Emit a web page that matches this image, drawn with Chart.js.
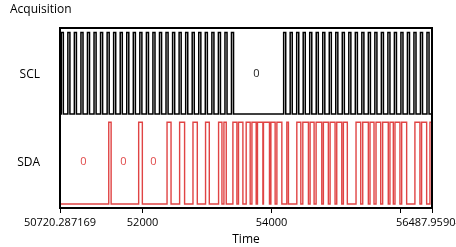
<!DOCTYPE html>
<html>
<head>
<meta charset="utf-8">
<script src="https://cdn.jsdelivr.net/npm/chart.js@4.4.1/dist/chart.umd.min.js"></script>
<style>
  html, body { margin: 0; padding: 0; background: #fff; }
  #wrap { width: 456px; height: 247px; }
</style>
</head>
<body>
<div id="wrap"><canvas id="acq" width="456" height="247"></canvas></div>
<script>
/* Logic-analyzer style acquisition: two digital lanes (SCL, SDA) over time.
 * Each lane is a list of toggle times; the level starts low at the left edge. */
var X_MIN = 50720.287169, X_MAX = 56487.959041;

var xTickValues = [50720.287169, 52000, 54000, 56000, 56487.959041];
var xTickLabels = ['50720.287169', '52000', '54000', '', '56487.959041'];

var laneNames = ['SDA', 'SCL'];

// SCL toggle times (rise, fall pairs)
var sclEdges = [
  50740, 50772, 50842, 50874, 50943, 50975, 51045, 51077, 51146, 51178,
  51248, 51280, 51349, 51381, 51451, 51483, 51552, 51584, 51654, 51686,
  51755, 51787, 51857, 51889, 51958, 51990, 52060, 52092, 52161, 52193,
  52263, 52295, 52364, 52396, 52466, 52498, 52567, 52599, 52669, 52701,
  52770, 52802, 52872, 52904, 52973, 53005, 53075, 53107, 53176, 53208,
  53278, 53310, 53379, 53411,
  54188, 54220, 54289, 54321, 54390, 54422, 54491, 54523, 54592, 54624,
  54693, 54725, 54794, 54826, 54895, 54927, 54996, 55028, 55097, 55129,
  55198, 55230, 55299, 55331, 55400, 55432, 55501, 55533, 55602, 55634,
  55703, 55735, 55804, 55836, 55905, 55937, 56006, 56038, 56107, 56139,
  56208, 56240, 56309, 56341, 56410, 56442
];

// SDA toggle times
var sdaEdges = [
  51476, 51513, 51940, 51997, 52380, 52442, 52575, 52652, 52782, 52849,
  52977, 53035, 53179, 53231, 53262, 53298,
  53401, 53463, 53488, 53556, 53607, 53669, 53696, 53762, 53782, 53866,
  53875, 53968, 53990, 54056, 54083, 54160, 54237, 54262,
  54392, 54454, 54485, 54572, 54598, 54660, 54691, 54779, 54804, 54881,
  54908, 54985, 55011, 55089, 55114, 55175,
  55310, 55383, 55414, 55501, 55527, 55589, 55620, 55693, 55723, 55810,
  55836, 55888, 55914, 55991, 56018, 56095,
  56223, 56301, 56327, 56405, 56456
];

// bus value annotations ("0") per lane
var sclValueTimes = [53766];
var sclValueText = ['0'];
var sdaValueTimes = [51084, 51704, 52169];
var sdaValueText = ['0', '0', '0'];

var FONT = 'Open Sans';

// lane levels on the y scale
var SDA_LOW = 0, SDA_HIGH = 1, SCL_LOW = 1.1, SCL_HIGH = 2.1;
var SDA_MID = 0.51, SCL_MID = 1.59;

function toSteps(edges, low, high) {
  var pts = [{ x: X_MIN, y: low }];
  var level = low;
  edges.forEach(function (t) {
    pts.push({ x: t, y: level });
    level = level === low ? high : low;
    pts.push({ x: t, y: level });
  });
  pts.push({ x: X_MAX, y: level });
  return pts;
}

var framePlugin = {
  id: 'frame',
  afterDatasetsDraw: function (chart) {
    var a = chart.chartArea, ctx = chart.ctx;
    var xs = chart.scales.x, ys = chart.scales.y;
    ctx.save();
    // value annotations
    ctx.font = '11px "' + FONT + '"';
    ctx.textAlign = 'center';
    ctx.textBaseline = 'middle';
    ctx.fillStyle = '#222';
    sclValueTimes.forEach(function (t, i) {
      ctx.fillText(sclValueText[i], xs.getPixelForValue(t), ys.getPixelForValue(SCL_MID));
    });
    ctx.fillStyle = '#e04848';
    sdaValueTimes.forEach(function (t, i) {
      ctx.fillText(sdaValueText[i], xs.getPixelForValue(t), ys.getPixelForValue(SDA_MID));
    });
    // plot frame
    ctx.strokeStyle = '#000';
    ctx.lineWidth = 2;
    ctx.strokeRect(a.left, a.top, a.right - a.left, a.bottom - a.top);
    ctx.restore();
  }
};

new Chart(document.getElementById('acq'), {
  type: 'line',
  data: {
    datasets: [
      { label: 'SCL', data: toSteps(sclEdges, SCL_LOW, SCL_HIGH), borderColor: '#000', borderWidth: 1.5 },
      { label: 'SDA', data: toSteps(sdaEdges, SDA_LOW, SDA_HIGH), borderColor: '#e04444', borderWidth: 1.4 }
    ]
  },
  options: {
    responsive: false,
    devicePixelRatio: 1,
    animation: false,
    elements: { point: { radius: 0 }, line: { tension: 0 } },
    layout: { padding: { left: 10, right: 24, top: 0, bottom: 0 } },
    plugins: {
      legend: { display: false },
      tooltip: { enabled: false },
      title: {
        display: true, text: 'Acquisition', align: 'start', color: '#000',
        font: { family: FONT, size: 12, weight: 'normal' },
        padding: { top: 2, bottom: 11.6 }
      }
    },
    scales: {
      x: {
        type: 'linear', min: X_MIN, max: X_MAX,
        afterBuildTicks: function (s) { s.ticks = xTickValues.map(function (v) { return { value: v }; }); },
        afterFit: function (s) { s.height = 39; s.paddingLeft = 0; s.paddingRight = 0; },
        ticks: {
          autoSkip: false, maxRotation: 0, color: '#000', padding: 3,
          font: { family: FONT, size: 11 },
          callback: function (v, i) { return xTickLabels[i]; }
        },
        grid: { drawOnChartArea: false, drawTicks: true, tickLength: 5, color: '#000' },
        border: { display: false },
        title: { display: true, text: 'Time', color: '#000', font: { family: FONT, size: 12 }, padding: { top: 0, bottom: 0 } }
      },
      y: {
        type: 'linear', min: -0.049, max: 2.154,
        afterBuildTicks: function (s) { s.ticks = [{ value: SDA_MID }, { value: SCL_MID }]; },
        afterFit: function (s) { s.width = 50; s.paddingTop = 0; s.paddingBottom = 0; },
        ticks: {
          color: '#000', padding: 12, font: { family: FONT, size: 12 },
          callback: function (v, i) { return laneNames[i]; }
        },
        grid: { display: false },
        border: { display: false }
      }
    }
  },
  plugins: [framePlugin]
});
</script>
</body>
</html>
